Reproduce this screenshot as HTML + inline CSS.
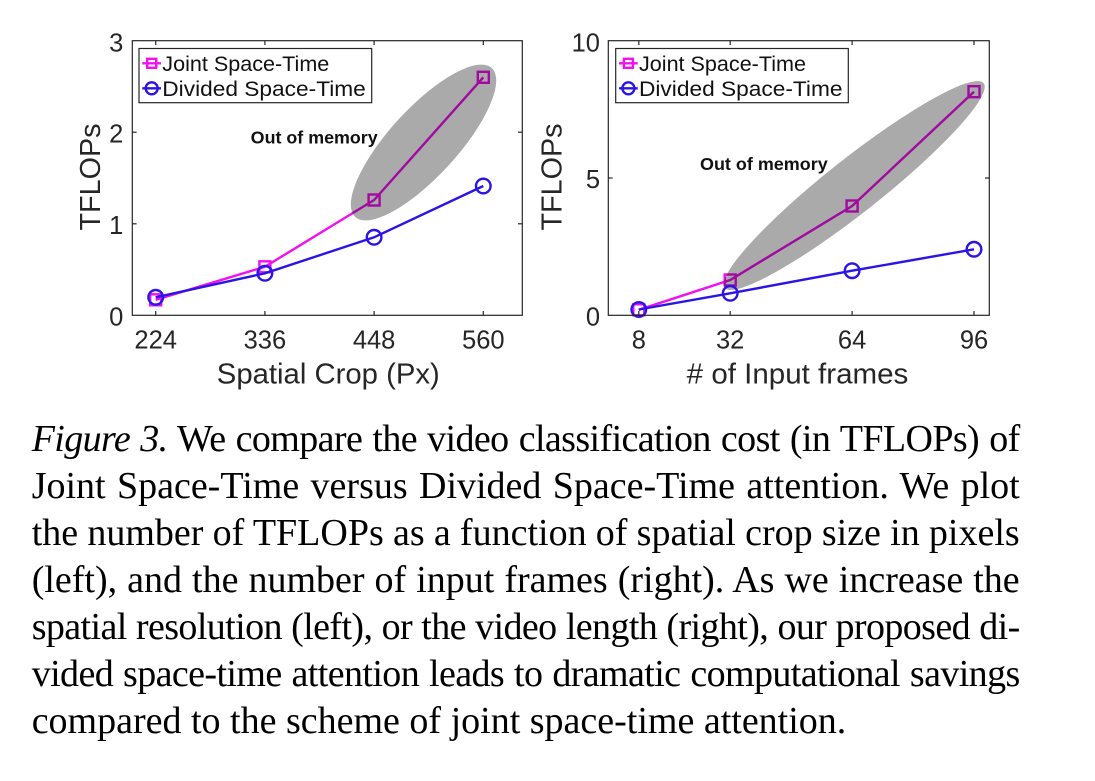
<!DOCTYPE html>
<html>
<head>
<meta charset="utf-8">
<style>
  html, body { margin:0; padding:0; background:#fff; }
  body { width:1095px; height:781px; position:relative; overflow:hidden; }
  svg { position:absolute; left:0; top:0; }
  .cap { position:absolute; left:31.7px; top:416.4px; width:988px;
         font-family:"Liberation Serif", serif; font-size:38px; line-height:46.88px; color:#000; }
  .cap div { height:46.88px; overflow:visible; text-align:justify; text-align-last:justify; word-spacing:-3px; }
  .cap div.t { letter-spacing:-0.6px; word-spacing:-2px; }
  .cap div.last { text-align-last:left; word-spacing:0; }
</style>
</head>
<body>
<svg width="1095" height="400" viewBox="0 0 1095 400" xmlns="http://www.w3.org/2000/svg" font-family="Liberation Sans, Arial, sans-serif">
  <!-- LEFT PLOT -->
  <g>
    <polyline points="155.7,299.8 264.9,266.8 374.1,200.0 483.3,77.3" fill="none" stroke="#f010f0" stroke-width="2.4"/>
    <g fill="none" stroke="#f010f0" stroke-width="2.4">
      <rect x="150.2" y="294.3" width="11" height="11"/>
      <rect x="259.4" y="261.3" width="11" height="11"/>
      <rect x="368.6" y="194.5" width="11" height="11"/>
      <rect x="477.8" y="71.8" width="11" height="11"/>
    </g>
    <ellipse cx="423.5" cy="142.5" rx="101" ry="34" transform="rotate(-47.5 423.5 142.5)" fill="#000" fill-opacity="0.335"/>
    <polyline points="155.7,297.3 264.9,273.3 374.1,237.3 483.3,186" fill="none" stroke="#2b14e6" stroke-width="2.4"/>
    <g fill="none" stroke="#2b14e6" stroke-width="2.4">
      <circle cx="155.7" cy="297.3" r="7.3"/>
      <circle cx="264.9" cy="273.3" r="7.3"/>
      <circle cx="374.1" cy="237.3" r="7.3"/>
      <circle cx="483.3" cy="186" r="7.3"/>
    </g>
    <text x="250.7" y="143.5" font-size="17.5" font-weight="bold" fill="#111" textLength="127" lengthAdjust="spacingAndGlyphs">Out of memory</text>
    <rect x="132.3" y="40.7" width="390" height="274.6" fill="none" stroke="#262626" stroke-width="1.2"/>
    <g stroke="#262626" stroke-width="1.2">
      <line x1="155.7" y1="315.3" x2="155.7" y2="311"/>
      <line x1="264.9" y1="315.3" x2="264.9" y2="311"/>
      <line x1="374.1" y1="315.3" x2="374.1" y2="311"/>
      <line x1="483.3" y1="315.3" x2="483.3" y2="311"/>
      <line x1="155.7" y1="40.7" x2="155.7" y2="45"/>
      <line x1="264.9" y1="40.7" x2="264.9" y2="45"/>
      <line x1="374.1" y1="40.7" x2="374.1" y2="45"/>
      <line x1="483.3" y1="40.7" x2="483.3" y2="45"/>
      <line x1="132.3" y1="223.8" x2="136.6" y2="223.8"/>
      <line x1="132.3" y1="132.2" x2="136.6" y2="132.2"/>
      <line x1="522.3" y1="223.8" x2="518" y2="223.8"/>
      <line x1="522.3" y1="132.2" x2="518" y2="132.2"/>
    </g>
    <g font-size="25.5" fill="#262626" text-anchor="end">
      <text x="123.3" y="325.5">0</text>
      <text x="123.3" y="234">1</text>
      <text x="123.3" y="142.4">2</text>
      <text x="123.3" y="51.5">3</text>
    </g>
    <g font-size="25.5" fill="#262626" text-anchor="middle">
      <text x="155.7" y="348.3">224</text>
      <text x="264.9" y="348.3">336</text>
      <text x="374.1" y="348.3">448</text>
      <text x="483.3" y="348.3">560</text>
    </g>
    <text x="328.3" y="383.5" font-size="29" fill="#262626" text-anchor="middle" textLength="223" lengthAdjust="spacingAndGlyphs">Spatial Crop (Px)</text>
    <text transform="translate(100,177) rotate(-90)" font-size="29" fill="#262626" text-anchor="middle" textLength="107" lengthAdjust="spacingAndGlyphs">TFLOPs</text>
    <rect x="139" y="48.5" width="232.7" height="54.2" fill="#fff" stroke="#262626" stroke-width="1.2"/>
    <line x1="142.3" y1="63.3" x2="161" y2="63.3" stroke="#f010f0" stroke-width="2.4"/>
    <rect x="147.2" y="58.8" width="9" height="9" fill="none" stroke="#f010f0" stroke-width="2.4"/>
    <line x1="142.3" y1="88.3" x2="161" y2="88.3" stroke="#2b14e6" stroke-width="2.4"/>
    <circle cx="151.7" cy="88.3" r="6" fill="none" stroke="#2b14e6" stroke-width="2.4"/>
    <text x="162.3" y="71" font-size="21.5" fill="#111" textLength="167" lengthAdjust="spacingAndGlyphs">Joint Space-Time</text>
    <text x="162.3" y="96" font-size="21.5" fill="#111" textLength="203.5" lengthAdjust="spacingAndGlyphs">Divided Space-Time</text>
  </g>

  <!-- RIGHT PLOT -->
  <g>
    <polyline points="638.8,309.8 730.2,280 852.1,206 974,91.7" fill="none" stroke="#f010f0" stroke-width="2.4"/>
    <g fill="none" stroke="#f010f0" stroke-width="2.4">
      <rect x="633.3" y="304.3" width="11" height="11"/>
      <rect x="724.7" y="274.5" width="11" height="11"/>
      <rect x="846.6" y="200.5" width="11" height="11"/>
      <rect x="968.5" y="86.2" width="11" height="11"/>
    </g>
    <ellipse cx="854.2" cy="185.5" rx="165" ry="27" transform="rotate(-38.3 854.2 185.5)" fill="#000" fill-opacity="0.335"/>
    <polyline points="638.8,309.5 730.2,293.3 852.1,270.7 974,249.3" fill="none" stroke="#2b14e6" stroke-width="2.4"/>
    <g fill="none" stroke="#2b14e6" stroke-width="2.4">
      <circle cx="638.8" cy="309.5" r="7.3"/>
      <circle cx="730.2" cy="293.3" r="7.3"/>
      <circle cx="852.1" cy="270.7" r="7.3"/>
      <circle cx="974" cy="249.3" r="7.3"/>
    </g>
    <text x="700" y="169.8" font-size="17.5" font-weight="bold" fill="#111" textLength="127.7" lengthAdjust="spacingAndGlyphs">Out of memory</text>
    <rect x="608.3" y="40.7" width="381" height="274.6" fill="none" stroke="#262626" stroke-width="1.2"/>
    <g stroke="#262626" stroke-width="1.2">
      <line x1="638.8" y1="315.3" x2="638.8" y2="311"/>
      <line x1="730.2" y1="315.3" x2="730.2" y2="311"/>
      <line x1="852.1" y1="315.3" x2="852.1" y2="311"/>
      <line x1="974" y1="315.3" x2="974" y2="311"/>
      <line x1="638.8" y1="40.7" x2="638.8" y2="45"/>
      <line x1="730.2" y1="40.7" x2="730.2" y2="45"/>
      <line x1="852.1" y1="40.7" x2="852.1" y2="45"/>
      <line x1="974" y1="40.7" x2="974" y2="45"/>
      <line x1="608.3" y1="178" x2="612.6" y2="178"/>
      <line x1="989.3" y1="178" x2="985" y2="178"/>
    </g>
    <g font-size="25.5" fill="#262626" text-anchor="end">
      <text x="600" y="325.5">0</text>
      <text x="600" y="188">5</text>
      <text x="600" y="51.5">10</text>
    </g>
    <g font-size="25.5" fill="#262626" text-anchor="middle">
      <text x="638.8" y="348.3">8</text>
      <text x="730.2" y="348.3">32</text>
      <text x="852.1" y="348.3">64</text>
      <text x="974" y="348.3">96</text>
    </g>
    <text x="797.5" y="383.5" font-size="29" fill="#262626" text-anchor="middle" textLength="221.6" lengthAdjust="spacingAndGlyphs"># of Input frames</text>
    <text transform="translate(561.7,177) rotate(-90)" font-size="29" fill="#262626" text-anchor="middle" textLength="107" lengthAdjust="spacingAndGlyphs">TFLOPs</text>
    <rect x="615.7" y="48.5" width="232.6" height="54.2" fill="#fff" stroke="#262626" stroke-width="1.2"/>
    <line x1="619" y1="63.3" x2="637.7" y2="63.3" stroke="#f010f0" stroke-width="2.4"/>
    <rect x="623.9" y="58.8" width="9" height="9" fill="none" stroke="#f010f0" stroke-width="2.4"/>
    <line x1="619" y1="88.3" x2="637.7" y2="88.3" stroke="#2b14e6" stroke-width="2.4"/>
    <circle cx="628.4" cy="88.3" r="6" fill="none" stroke="#2b14e6" stroke-width="2.4"/>
    <text x="639" y="71" font-size="21.5" fill="#111" textLength="167" lengthAdjust="spacingAndGlyphs">Joint Space-Time</text>
    <text x="639" y="96" font-size="21.5" fill="#111" textLength="203.5" lengthAdjust="spacingAndGlyphs">Divided Space-Time</text>
  </g>
</svg>

<div class="cap">
  <div class="t"><i>Figure 3.</i> We compare the video classification cost (in TFLOPs) of</div>
  <div>Joint Space-Time versus Divided Space-Time attention. We plot</div>
  <div>the number of TFLOPs as a function of spatial crop size in pixels</div>
  <div>(left), and the number of input frames (right). As we increase the</div>
  <div class="t">spatial resolution (left), or the video length (right), our proposed di-</div>
  <div class="t">vided space-time attention leads to dramatic computational savings</div>
  <div class="last">compared to the scheme of joint space-time attention.</div>
</div>
</body>
</html>
